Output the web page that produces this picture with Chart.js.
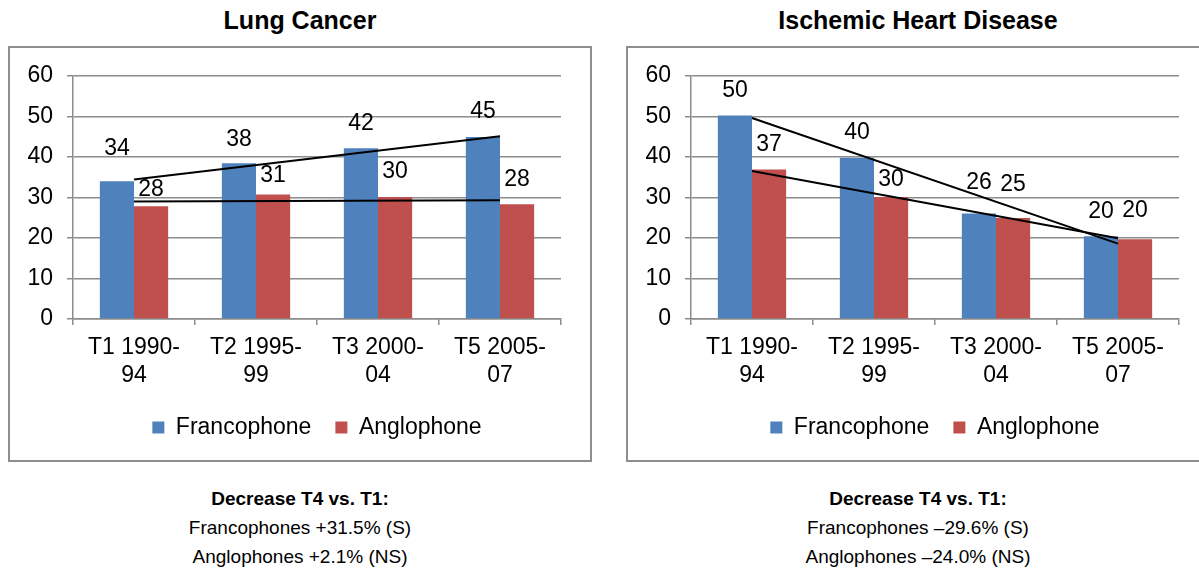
<!DOCTYPE html>
<html>
<head>
<meta charset="utf-8">
<script src="https://cdn.jsdelivr.net/npm/chart.js@4"></script>
<style>
  body { margin: 0; background: #fff; width: 1199px; height: 569px; overflow: hidden; position: relative; font-family: "Liberation Sans", Arial, sans-serif; color: #000; }
  .title { position: absolute; top: 6px; width: 582px; text-align: center; font-weight: bold; font-size: 25px; line-height: 28px; }
  .box { position: absolute; top: 46px; width: 580px; height: 412px; border: 2px solid #8e8e8e; }
  .note { position: absolute; top: 484px; width: 582px; text-align: center; font-size: 19px; line-height: 29px; }
  .note b { font-weight: bold; }
</style>
</head>
<body>
<div class="title" style="left:9px">Lung Cancer</div>
<div class="title" style="left:627px">Ischemic Heart Disease</div>
<div class="box" style="left:8px"><canvas id="lung" width="580" height="412"></canvas></div>
<div class="box" style="left:626px"><canvas id="heart" width="580" height="412"></canvas></div>
<div class="note" style="left:9px"><b>Decrease T4 vs. T1:</b><br>Francophones +31.5% (S)<br>Anglophones +2.1% (NS)</div>
<div class="note" style="left:627px"><b>Decrease T4 vs. T1:</b><br>Francophones –29.6% (S)<br>Anglophones –24.0% (NS)</div>
<script>
const categories = [["T1 1990-", "94"], ["T2 1995-", "99"], ["T3 2000-", "04"], ["T5 2005-", "07"]];
const seriesNames = ["Francophone", "Anglophone"];
const yTicks = [0, 10, 20, 30, 40, 50, 60];

// lung cancer
const lungFranco = [34.0, 38.4, 42.1, 44.9];
const lungAnglo = [27.8, 30.7, 30.1, 28.3];
const lungFrancoTrend = [34.4, 45.1]; // first and last period
const lungAngloTrend = [29.0, 29.3];

// ischemic heart disease
const heartFranco = [50.2, 39.8, 26.0, 20.4];
const heartAnglo = [36.9, 30.1, 24.9, 19.7];
const heartFrancoTrend = [49.6, 18.6];
const heartAngloTrend = [36.5, 19.9];

// how far above the bar top each value label sits (px), per series
const lungLift = [[33, 24, 25, 25], [17, 19, 25, 25]];
const heartLift = [[25, 25, 31, 25], [25, 17, 33, 28]];

const BLUE = "#4f81bd";
const RED = "#c0504d";
const GRID = "#8c8c8c";
const FONT = "'Liberation Sans', Arial, sans-serif";

function trendData(ends) {
  const d = categories.map(() => null);
  d[0] = ends[0];
  d[d.length - 1] = ends[1];
  return d;
}

function makeChart(id, franco, anglo, fTrend, aTrend, lift) {
  const labelsPlugin = {
    id: "valueLabels",
    afterDatasetsDraw(chart) {
      const ctx = chart.ctx;
      ctx.save();
      ctx.font = "23px " + FONT;
      ctx.fillStyle = "#000";
      ctx.textAlign = "center";
      ctx.textBaseline = "middle";
      [0, 1].forEach(i => {
        const ds = chart.data.datasets[i];
        chart.getDatasetMeta(i).data.forEach((bar, j) => {
          ctx.fillText(String(Math.round(ds.data[j])), bar.x, bar.y - lift[i][j]);
        });
      });
      ctx.restore();
    }
  };

  return new Chart(document.getElementById(id), {
    data: {
      labels: categories,
      datasets: [
        { type: "bar", label: seriesNames[0], data: franco, backgroundColor: BLUE, order: 1 },
        { type: "bar", label: seriesNames[1], data: anglo, backgroundColor: RED, order: 1 },
        { type: "line", label: "trend1", data: trendData(fTrend), spanGaps: true, borderColor: "#000", borderWidth: 2, pointRadius: 0, order: 0 },
        { type: "line", label: "trend2", data: trendData(aTrend), spanGaps: true, borderColor: "#000", borderWidth: 2, pointRadius: 0, order: 0 }
      ]
    },
    options: {
      responsive: false,
      animation: false,
      datasets: {
        bar: { categoryPercentage: 0.56, barPercentage: 1.0 }
      },
      layout: { padding: { left: 13, right: 29, top: 27, bottom: 11 } },
      plugins: {
        tooltip: { enabled: false },
        legend: {
          position: "bottom",
          fullSize: false,
          labels: {
            boxWidth: 12,
            boxHeight: 12,
            padding: 24,
            color: "#000",
            font: { family: FONT, size: 23 },
            filter: item => item.datasetIndex < 2
          }
        }
      },
      scales: {
        x: {
          afterFit: s => { s.height = 73; },
          grid: { offset: true, drawOnChartArea: false, tickLength: 6, color: GRID, lineWidth: 1.5 },
          border: { color: GRID, width: 1.5 },
          ticks: { color: "#000", padding: 9, font: { family: FONT, size: 23 } }
        },
        y: {
          min: yTicks[0],
          max: yTicks[yTicks.length - 1],
          afterFit: s => { s.width = 50; },
          afterBuildTicks: s => { s.ticks = yTicks.map(v => ({ value: v })); },
          grid: { color: GRID, lineWidth: 1.5, tickLength: 6 },
          border: { color: GRID, width: 1.5 },
          ticks: { color: "#000", padding: 14, font: { family: FONT, size: 23 } }
        }
      }
    },
    plugins: [labelsPlugin]
  });
}

makeChart("lung", lungFranco, lungAnglo, lungFrancoTrend, lungAngloTrend, lungLift);
makeChart("heart", heartFranco, heartAnglo, heartFrancoTrend, heartAngloTrend, heartLift);
</script>
</body>
</html>
